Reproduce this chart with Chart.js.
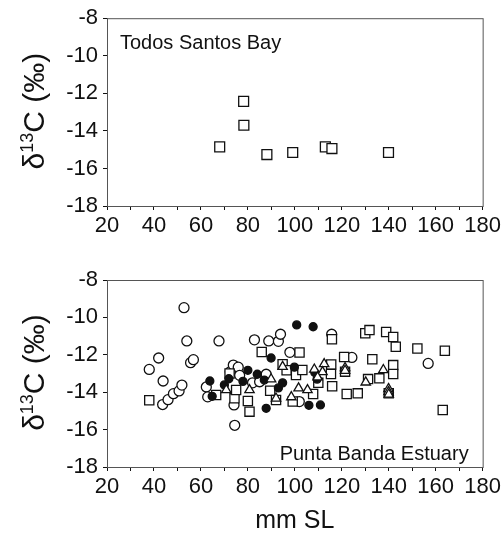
<!DOCTYPE html>
<html>
<head>
<meta charset="utf-8">
<script src="https://cdn.jsdelivr.net/npm/chart.js@4.4.0/dist/chart.umd.min.js"></script>
<style>
	body { margin: 0; background: #fff; }
	#wrap { position: relative; width: 504px; height: 536px; }
	canvas { position: absolute; left: 0; }
</style>
</head>
<body>
<div id="wrap">
	<canvas id="top" width="504" height="250" style="top:0"></canvas>
	<canvas id="bottom" width="504" height="286" style="top:250px"></canvas>
</div>
<script>
// Todos Santos Bay (squares)
var tsbSL = [68, 78.2, 78.3, 88.1, 99.1, 113, 115.8, 139.9]
var tsbD13C = [-14.85, -12.43, -13.7, -15.26, -15.15, -14.85, -14.94, -15.15]

// Punta Banda Estuary
var pbCircleSL = [38, 42, 43.9, 43.7, 46, 48.3, 50.7, 51.9, 52.8, 54, 55.6, 56.8, 62.3, 62.9, 67.7, 72.5, 73.8, 75.9, 76.5, 74.1, 74.4, 82, 82.8, 85, 87.8, 88.9, 93, 93.9, 97.9, 101.9, 115.7, 124.3, 156.8]
var pbCircleD13C = [-12.78, -12.17, -13.4, -14.66, -14.4, -14.08, -13.93, -13.62, -9.48, -11.26, -12.42, -12.26, -13.72, -14.25, -11.26, -12.9, -12.55, -12.66, -13.1, -14.68, -15.77, -13.5, -11.2, -13.44, -13.04, -11.26, -11.28, -10.9, -11.87, -14.5, -10.9, -12.14, -12.46]

var pbFilledSL = [63.8, 64.8, 70, 71.9, 77.9, 80, 84, 87, 89.9, 87.8, 93, 94.8, 99.8, 100.8, 107.8, 106, 110.9, 108.5, 109.5]
var pbFilledD13C = [-13.4, -14.22, -13.61, -13.28, -13.42, -12.83, -13.04, -13.35, -12.17, -14.86, -13.77, -13.5, -12.66, -10.4, -10.5, -14.7, -14.68, -12.95, -13.3]

var pbSquareSL = [38, 66.5, 72.2, 74.3, 75, 80, 80.7, 85.9, 89.5, 92, 94.8, 96.5, 99.1, 100.5, 102, 103.2, 107.8, 110, 115.8, 115.5, 115.4, 115.9, 121, 121.4, 122.1, 126.8, 130, 131.8, 131.2, 133, 136, 138.9, 141.9, 143, 141.9, 141.9, 140, 152.2, 163.9, 163]
var pbSquareD13C = [-14.43, -14.15, -13.0, -14.33, -13.88, -14.47, -15.04, -11.85, -13.92, -14.42, -12.5, -12.83, -14.5, -13.08, -11.88, -12.81, -14.1, -13.5, -11.17, -12.52, -13.03, -13.68, -12.12, -12.9, -14.1, -14.06, -10.85, -10.68, -13.3, -12.24, -13.26, -10.78, -11.05, -11.57, -12.55, -13.03, -14.05, -11.66, -11.78, -14.95]

var pbTriangleSL = [70.8, 80.7, 89.9, 92, 94.8, 98.5, 101.6, 105.4, 108.3, 112.5, 111.8, 109.7, 121.4, 121.4, 130.2, 137.7, 139.9, 139.9, 140]
var pbTriangleD13C = [-13.88, -13.88, -13.3, -14.33, -12.64, -14.26, -13.79, -13.88, -12.78, -12.49, -12.92, -13.2, -12.7, -12.85, -13.47, -12.81, -13.82, -13.98, -14.12]

var xTicks = [20, 40, 60, 80, 100, 120, 140, 160, 180]
var yTicks = [-18, -16, -14, -12, -10, -8]

function pts(xs, ys) {
	var out = []
	for (var i = 0; i < xs.length; i++) out.push({ x: xs[i], y: ys[i] })
	return out
}

var ink = '#111'
var axisColor = '#555'
var font = 'Arial, "Liberation Sans", sans-serif'

// frame, y title with superscript, panel label
var panelPlugin = {
	id: 'panel',
	afterDraw: function (chart, args, opts) {
		var ctx = chart.ctx
		var a = chart.chartArea
		ctx.save()
		ctx.strokeStyle = axisColor
		ctx.lineWidth = 1
		ctx.strokeRect(a.left + 0.5, a.top + 0.5, a.right - a.left, a.bottom - a.top)

		// y title: δ13C (‰)
		ctx.fillStyle = ink
		ctx.textBaseline = 'alphabetic'
		var big = '30px ' + font, small = '18px ' + font
		ctx.font = big
		var w1 = ctx.measureText('\u03b4').width
		var w3 = ctx.measureText('C (\u2030)').width
		ctx.font = small
		var w2 = ctx.measureText('13').width
		var total = w1 + w2 + w3
		ctx.translate(44, (a.top + a.bottom) / 2 - 1)
		ctx.rotate(-Math.PI / 2)
		var x0 = -total / 2
		ctx.font = big
		ctx.fillText('\u03b4', x0, 0)
		ctx.font = small
		ctx.fillText('13', x0 + w1, -11)
		ctx.font = big
		ctx.fillText('C (\u2030)', x0 + w1 + w2, 0)
		ctx.restore()

		ctx.save()
		ctx.fillStyle = ink
		ctx.font = '20px ' + font
		ctx.textBaseline = 'alphabetic'
		if (opts.align === 'left') {
			ctx.textAlign = 'left'
			ctx.fillText(opts.label, a.left + 13, a.top + 31)
		} else {
			ctx.textAlign = 'right'
			ctx.fillText(opts.label, a.right - 14, a.bottom - 7)
		}
		ctx.restore()
	},
}

function scales(xHeight, xTitle) {
	return {
		x: {
			type: 'linear',
			min: 20,
			max: 180,
			afterFit: function (s) { s.height = xHeight },
			ticks: {
				stepSize: 10,
				color: ink,
				font: { family: font, size: 22 },
				padding: 3,
				maxRotation: 0,
				autoSkip: false,
				callback: function (v) { return xTicks.indexOf(v) >= 0 ? String(v) : '' },
			},
			grid: { drawOnChartArea: false, tickLength: 4, color: ink },
			border: { color: axisColor },
			title: {
				display: !!xTitle,
				text: xTitle || '',
				color: ink,
				font: { family: font, size: 25 },
				padding: { top: 0, bottom: 0 },
			},
		},
		y: {
			type: 'linear',
			min: -18,
			max: -8,
			afterFit: function (s) { s.width = 107 },
			ticks: {
				stepSize: 2,
				color: ink,
				font: { family: font, size: 22 },
				padding: 5,
				callback: function (v) { return yTicks.indexOf(v) >= 0 ? String(v) : '' },
			},
			grid: { drawOnChartArea: false, tickLength: 4, color: ink },
			border: { color: axisColor },
		},
	}
}

function marker(label, data, style, radius, fill, order) {
	return {
		label: label,
		data: data,
		pointStyle: style,
		pointRadius: radius,
		pointHoverRadius: radius,
		pointBackgroundColor: fill,
		pointBorderColor: ink,
		pointBorderWidth: 1.3,
		order: order,
	}
}

var common = {
	responsive: false,
	animation: false,
	devicePixelRatio: 1,
	events: [],
	plugins: { legend: { display: false }, tooltip: { enabled: false } },
}

new Chart(document.getElementById('top').getContext('2d'), {
	type: 'scatter',
	data: {
		datasets: [marker('Todos Santos Bay', pts(tsbSL, tsbD13C), 'rect', 7, '#fff', 0)],
	},
	options: Object.assign({}, common, {
		layout: { padding: { top: 17, right: 20, left: 0, bottom: 0 } },
		scales: scales(44, null),
		plugins: Object.assign({}, common.plugins, { panel: { label: 'Todos Santos Bay', align: 'left' } }),
	}),
	plugins: [panelPlugin],
})

new Chart(document.getElementById('bottom').getContext('2d'), {
	type: 'scatter',
	data: {
		datasets: [
			marker('triangles', pts(pbTriangleSL, pbTriangleD13C), 'triangle', 5.4, '#fff', 0),
			marker('filled circles', pts(pbFilledSL, pbFilledD13C), 'circle', 4, ink, 1),
			marker('squares', pts(pbSquareSL, pbSquareD13C), 'rect', 6.5, '#fff', 2),
			marker('open circles', pts(pbCircleSL, pbCircleD13C), 'circle', 5, '#fff', 3),
		],
	},
	options: Object.assign({}, common, {
		layout: { padding: { top: 30, right: 20, left: 0, bottom: 0 } },
		scales: scales(69, 'mm SL'),
		plugins: Object.assign({}, common.plugins, { panel: { label: 'Punta Banda Estuary', align: 'right' } }),
	}),
	plugins: [panelPlugin],
})
</script>
</body>
</html>
